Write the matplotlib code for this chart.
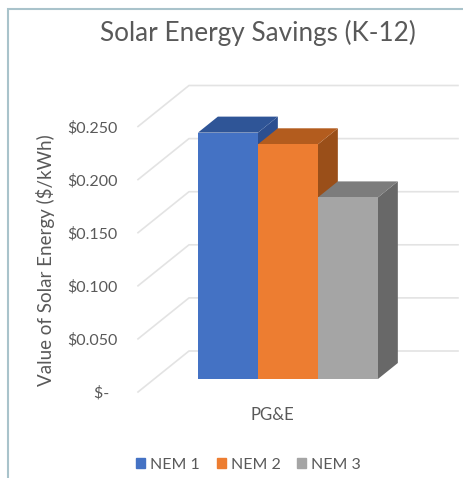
import matplotlib
matplotlib.use("Agg")
import matplotlib.pyplot as plt
from matplotlib.lines import Line2D
from matplotlib.patches import Patch

plt.rcParams['font.family'] = ['Lato', 'DejaVu Sans']

title = "Solar Energy Savings (K-12)"
ylabel = "Value of Solar Energy ($/kWh)"
categories = ["PG&E"]
series = ["NEM 1", "NEM 2", "NEM 3"]
values = [0.232, 0.221, 0.171]
yticks = [0.0, 0.05, 0.10, 0.15, 0.20, 0.25]
yticklabels = ["$-  ", "$0.050", "$0.100", "$0.150", "$0.200", "$0.250"]
front = ["#4472C4", "#ED7D31", "#A5A5A5"]
top = ["#2F5597", "#B35C1E", "#7C7C7C"]
side = ["#2C4F90", "#9A4F19", "#686868"]

W, H = 463, 478
TEXT = "#595959"
GRID = "#E3E3E3"

fig = plt.figure(figsize=(W / 100, H / 100), dpi=100, facecolor="white")
ax = fig.add_axes([138 / W, 1 - 392 / H, 269 / W, 265.5 / H])
ax.set_xlim(-2.242, 2.242)
ax.set_ylim(0, 0.25)
ax.set_facecolor("none")
for s in ax.spines.values():
    s.set_visible(False)

# oblique projection: depth d in 0..1 shifts a point right and up
DX = 51 / 60
DY = 41 / 1062


def proj(x, v, d):
    return x + d * DX, v + d * DY


# side wall + back wall gridlines
xmin, xmax = ax.get_xlim()
for v in yticks:
    pts = [proj(xmin, v, 0), proj(xmin, v, 1), proj(xmax, v, 1)]
    ax.plot([p[0] for p in pts], [p[1] for p in pts], color=GRID, lw=1.2,
            clip_on=False, zorder=1, solid_joinstyle="round")

# bars
D0, D1 = 13 / 41, 29 / 41
for i, v in enumerate(values):
    x0, x1 = i - 1.512, i - 0.512
    z = 2 + i
    a, b, c, d = proj(x0, 0, D0), proj(x1, 0, D0), proj(x1, v, D0), proj(x0, v, D0)
    e, f, g = proj(x1, 0, D1), proj(x1, v, D1), proj(x0, v, D1)
    ax.fill(*zip(b, e, f, c), color=side[i], lw=0, clip_on=False, zorder=z)
    ax.fill(*zip(d, c, f, g), color=top[i], lw=0, clip_on=False, zorder=z)
    ax.fill(*zip(a, b, c, d), color=front[i], lw=0, clip_on=False, zorder=z)

ax.set_yticks(yticks, yticklabels, fontsize=11.5, color=TEXT)
ax.set_xticks([0], categories, fontsize=12, color=TEXT)
ax.tick_params(axis="y", length=0, pad=14.4)
ax.tick_params(axis="x", length=0, pad=11)
ax.set_ylabel(ylabel, fontsize=13.5, color=TEXT)
ax.yaxis.set_label_coords(55 / W, 1 - 260 / H, transform=fig.transFigure)

fig.text(258 / W, 1 - 33 / H, title, fontsize=18.8, color=TEXT, ha="center", va="center")

handles = [Patch(color=c, label=s) for c, s in zip(front, series)]
fig.legend(handles=handles, loc="center", bbox_to_anchor=(248.5 / W, 1 - 465 / H), ncols=3,
           frameon=False, fontsize=11.5, labelcolor=TEXT, handlelength=0.56, handleheight=0.56,
           handletextpad=0.31, columnspacing=1.06, borderpad=0, borderaxespad=0)

border = "#A9C3CB"
fig.add_artist(Line2D([8 / W, 8 / W, 1], [0, 1 - 9 / H, 1 - 9 / H], color=border, lw=1.5,
                      transform=fig.transFigure, solid_joinstyle="miter"))

fig.savefig("out.png", dpi=100)
